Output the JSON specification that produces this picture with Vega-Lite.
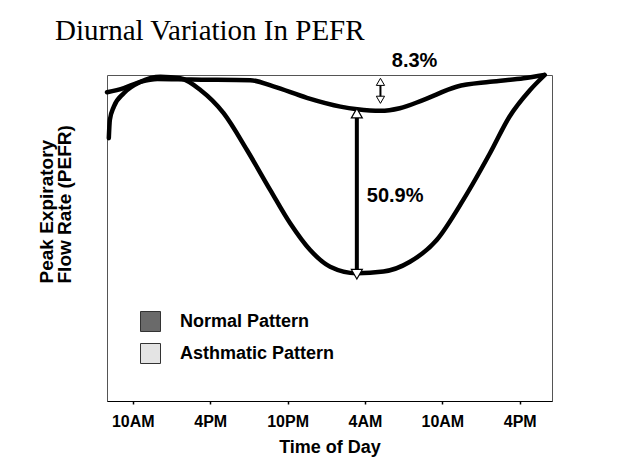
{
  "$schema": "https://vega.github.io/schema/vega-lite/v6.json",
  "width": 445,
  "height": 326,
  "autosize": {"type": "none"},
  "padding": {"left": 107, "top": 75, "right": 67, "bottom": 64},
  "background": "white",
  "title": {
    "text": "Diurnal Variation In PEFR",
    "anchor": "start",
    "frame": "group",
    "font": "Liberation Serif",
    "fontSize": 29,
    "fontWeight": "normal",
    "color": "black",
    "dx": -52,
    "offset": 5
  },
  "config": {
    "view": {"stroke": "#555", "strokeWidth": 1},
    "font": "Liberation Sans"
  },
  "layer": [
    {
      "data": {
        "values": [
          {"series": "Normal", "h": -2.0, "v": 94.7},
          {"series": "Normal", "h": -0.7, "v": 96.0},
          {"series": "Normal", "h": 0.6, "v": 97.9},
          {"series": "Normal", "h": 1.9, "v": 98.8},
          {"series": "Normal", "h": 4.5, "v": 98.6},
          {"series": "Normal", "h": 9.1, "v": 98.4},
          {"series": "Normal", "h": 10.9, "v": 96.5},
          {"series": "Normal", "h": 13.5, "v": 93.0},
          {"series": "Normal", "h": 16.1, "v": 90.3},
          {"series": "Normal", "h": 17.4, "v": 89.5},
          {"series": "Normal", "h": 19.2, "v": 89.0},
          {"series": "Normal", "h": 20.7, "v": 89.8},
          {"series": "Normal", "h": 22.5, "v": 92.3},
          {"series": "Normal", "h": 25.1, "v": 96.4},
          {"series": "Normal", "h": 27.7, "v": 97.9},
          {"series": "Normal", "h": 30.3, "v": 99.0},
          {"series": "Normal", "h": 31.9, "v": 100},
          {"series": "Asthmatic", "h": -1.86, "v": 80.6},
          {"series": "Asthmatic", "h": -1.78, "v": 86.2},
          {"series": "Asthmatic", "h": -1.47, "v": 90.3},
          {"series": "Asthmatic", "h": -0.7, "v": 94.4},
          {"series": "Asthmatic", "h": 0.6, "v": 97.9},
          {"series": "Asthmatic", "h": 2.14, "v": 99.5},
          {"series": "Asthmatic", "h": 3.69, "v": 99.0},
          {"series": "Asthmatic", "h": 5.24, "v": 95.4},
          {"series": "Asthmatic", "h": 7.04, "v": 88.3},
          {"series": "Asthmatic", "h": 8.85, "v": 77.0},
          {"series": "Asthmatic", "h": 10.66, "v": 64.7},
          {"series": "Asthmatic", "h": 12.2, "v": 54.5},
          {"series": "Asthmatic", "h": 13.75, "v": 46.3},
          {"series": "Asthmatic", "h": 15.3, "v": 41.2},
          {"series": "Asthmatic", "h": 17.37, "v": 39.2},
          {"series": "Asthmatic", "h": 19.43, "v": 39.7},
          {"series": "Asthmatic", "h": 21.49, "v": 42.7},
          {"series": "Asthmatic", "h": 23.56, "v": 49.4},
          {"series": "Asthmatic", "h": 25.62, "v": 61.7},
          {"series": "Asthmatic", "h": 27.69, "v": 76.0},
          {"series": "Asthmatic", "h": 29.2, "v": 87.2},
          {"series": "Asthmatic", "h": 30.8, "v": 95.4},
          {"series": "Asthmatic", "h": 31.94, "v": 100}
        ]
      },
      "mark": {"type": "line", "interpolate": "monotone", "stroke": "black", "strokeWidth": 4.5, "strokeCap": "round", "clip": false},
      "encoding": {
        "x": {
          "field": "h", "type": "quantitative",
          "scale": {"domain": [-2, 32.5], "nice": false, "zero": false},
          "axis": {
            "title": "Time of Day",
            "values": [0, 6, 12, 18, 24, 30],
            "labelExpr": "['10AM','4PM','10PM','4AM','10AM','4PM'][datum.value / 6]",
            "grid": false,
            "domainColor": "black",
            "domainWidth": 1,
            "tickColor": "black",
            "tickWidth": 1.5,
            "tickSize": 3,
            "labelPadding": 9,
            "labelFont": "Liberation Sans",
            "labelFontSize": 16,
            "labelFontWeight": "bold",
            "labelColor": "black",
            "titleFont": "Liberation Sans",
            "titleFontSize": 18,
            "titleFontWeight": "bold",
            "titleColor": "black",
            "titlePadding": 9
          }
        },
        "y": {
          "field": "v", "type": "quantitative",
          "scale": {"domain": [0, 100], "nice": false, "zero": false},
          "axis": {
            "title": ["Peak Expiratory", "Flow Rate (PEFR)"],
            "labels": false,
            "ticks": false,
            "domain": false,
            "grid": false,
            "titleFont": "Liberation Sans",
            "titleFontSize": 19,
            "titleFontWeight": "bold",
            "titleColor": "black",
            "titleAngle": 270,
            "titleAlign": "left",
            "titleBaseline": "top",
            "titleX": -70,
            "titleY": 208,
            "titleLineHeight": 18
          }
        },
        "detail": {"field": "series", "type": "nominal"}
      }
    },
    {
      "data": {"values": [{"h": 17.37, "v1": 39.5, "v2": 88.5, "w": "big"}, {"h": 19.2, "v1": 93.0, "v2": 97.5, "w": "small"}]},
      "mark": {"type": "rule", "stroke": "black"},
      "encoding": {
        "x": {"field": "h", "type": "quantitative"},
        "y": {"field": "v1", "type": "quantitative"},
        "y2": {"field": "v2"},
        "strokeWidth": {"field": "w", "type": "nominal", "scale": {"domain": ["big", "small"], "range": [4, 2]}, "legend": null}
      }
    },
    {
      "data": {"values": [{"h": 17.37, "v": 88.3, "dir": "up"}, {"h": 17.37, "v": 38.9, "dir": "down"}]},
      "mark": {"type": "point", "filled": true, "fill": "white", "stroke": "black", "strokeWidth": 1.2, "opacity": 1, "size": 120},
      "encoding": {
        "x": {"field": "h", "type": "quantitative"},
        "y": {"field": "v", "type": "quantitative"},
        "shape": {"field": "dir", "type": "nominal", "scale": {"domain": ["up", "down"], "range": ["triangle-up", "triangle-down"]}, "legend": null}
      }
    },
    {
      "data": {"values": [{"h": 19.2, "v": 97.9, "dir": "up"}, {"h": 19.2, "v": 92.4, "dir": "down"}]},
      "mark": {"type": "point", "filled": true, "fill": "white", "stroke": "black", "strokeWidth": 1, "opacity": 1, "size": 68},
      "encoding": {
        "x": {"field": "h", "type": "quantitative"},
        "y": {"field": "v", "type": "quantitative"},
        "shape": {"field": "dir", "type": "nominal", "scale": {"domain": ["up", "down"], "range": ["triangle-up", "triangle-down"]}, "legend": null}
      }
    },
    {
      "data": {"values": [{"h": 20.08, "v": 104.4, "label": "8.3%"}, {"h": 18.14, "v": 62.9, "label": "50.9%"}]},
      "mark": {"type": "text", "align": "left", "baseline": "middle", "font": "Liberation Sans", "fontSize": 20, "fontWeight": "bold", "color": "black", "clip": false},
      "encoding": {
        "x": {"field": "h", "type": "quantitative"},
        "y": {"field": "v", "type": "quantitative"},
        "text": {"field": "label", "type": "nominal"}
      }
    },
    {
      "data": {"values": [{"pattern": "Normal Pattern"}, {"pattern": "Asthmatic Pattern"}]},
      "mark": {"type": "point", "shape": "square", "filled": true, "opacity": 0},
      "encoding": {
        "fill": {
          "field": "pattern", "type": "nominal",
          "scale": {"domain": ["Normal Pattern", "Asthmatic Pattern"], "range": ["#6a6a6a", "#e4e4e4"]},
          "legend": {
            "title": null,
            "orient": "none",
            "legendX": 33,
            "legendY": 236,
            "padding": 0,
            "symbolType": "square",
            "symbolSize": 400,
            "symbolStrokeColor": "#333",
            "symbolStrokeWidth": 1,
            "symbolOpacity": 1,
            "labelFont": "Liberation Sans",
            "labelFontSize": 18,
            "labelFontWeight": "bold",
            "labelColor": "black",
            "labelOffset": 19,
            "rowPadding": 7,
            "encode": {
              "symbols": {"update": {"opacity": {"value": 1}, "stroke": {"value": "#333"}, "strokeWidth": {"value": 1}}}
            }
          }
        }
      }
    }
  ]
}
